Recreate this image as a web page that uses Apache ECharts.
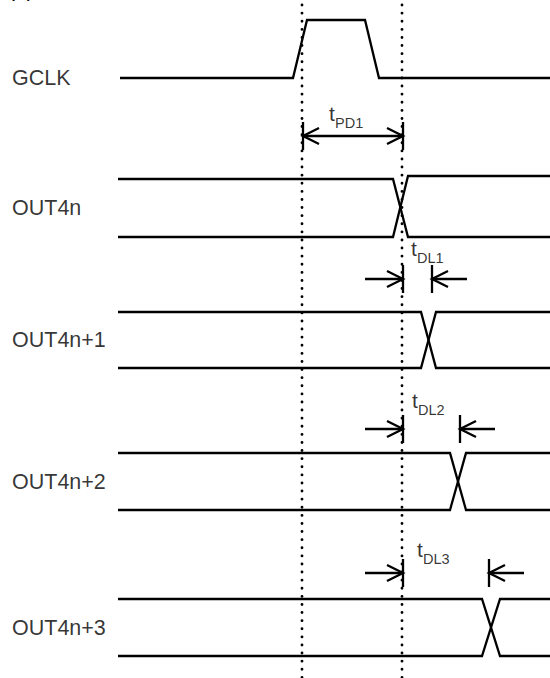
<!DOCTYPE html>
<html><head><meta charset="utf-8">
<script src="https://cdn.jsdelivr.net/npm/echarts@6/dist/echarts.min.js"></script>
<style>html,body{margin:0;padding:0;background:#fff}#c{width:550px;height:678px}</style>
</head><body><div id="c"></div>
<script>
// ---- data (diagram units: x = time, y = vertical position of the traces) ----
const signalNames = ['GCLK', 'OUT4n', 'OUT4n+1', 'OUT4n+2', 'OUT4n+3'];
const gclkX = [120, 293, 307, 365, 379, 550];
const gclkY = [78, 78, 20, 20, 78, 78];
const outHigh = [179, 312, 453, 599];
const outHighEnd = [176, 312, 453, 599];
const outLow = [237, 368, 510, 656];
const crossStart = [393, 421, 450, 482];
const crossEnd = [408, 436, 466, 500];
const traceStartX = 118, traceEndX = 550;
const refEdgeX = [302, 402];
const pdFrom = 303, pdTo = 403, pdY = 136;
const dlNames = ['DL1', 'DL2', 'DL3'];
const dlArrowY = [279, 429, 573];
const dlEndX = [432, 460, 489];
const dlLabelX = [411, 412, 417];
const dlLabelY = [248, 400, 549];

const FONT = '"Liberation Sans", Arial, sans-serif';
const segs = [];
// GCLK
segs.push({coords: gclkX.map((x, i) => [x, gclkY[i]])});
// outputs with crossing
outHigh.forEach((h, i) => {
  const l = outLow[i], s = crossStart[i], e = crossEnd[i];
  segs.push({coords: [[traceStartX, h], [s, h], [e, l], [traceEndX, l]]});
  segs.push({coords: [[traceStartX, l], [s, l], [e, outHighEnd[i]], [traceEndX, outHighEnd[i]]]});
});
const AH = 16, AW = 8, TK = 14;
// tPD1 double arrow
segs.push({coords: [[pdFrom, pdY], [pdTo, pdY]]});
segs.push({coords: [[pdFrom + AH, pdY - AW], [pdFrom, pdY], [pdFrom + AH, pdY + AW]]});
segs.push({coords: [[pdTo - AH, pdY - AW], [pdTo, pdY], [pdTo - AH, pdY + AW]]});
segs.push({coords: [[pdFrom, pdY - TK], [pdFrom, pdY + TK]]});
segs.push({coords: [[pdTo, pdY - TK], [pdTo, pdY + TK]]});
// tDL arrows
dlArrowY.forEach((y, i) => {
  const a = refEdgeX[1] + 1, b = dlEndX[i];
  segs.push({coords: [[a - 38, y], [a, y]]});
  segs.push({coords: [[a - AH, y - AW], [a, y], [a - AH, y + AW]]});
  segs.push({coords: [[a, y - TK], [a, y + TK]]});
  segs.push({coords: [[b + 35, y], [b, y]]});
  segs.push({coords: [[b + AH, y - AW], [b, y], [b + AH, y + AW]]});
  segs.push({coords: [[b, y - TK], [b, y + TK]]});
});

const nameLabels = signalNames.map((n, i) => [12, i === 0 ? gclkY[0] : (outHigh[i - 1] + outLow[i - 1]) / 2, n]);
const tLabels = [[329, 113, 't']].concat(dlLabelX.map((x, i) => [x, dlLabelY[i], 't']));
const subLabels = [[335, 123, 'PD1']].concat(dlLabelX.map((x, i) => [x + 6, dlLabelY[i] + 10, dlNames[i]]));

function textSeries(data, size) {
  return {
    type: 'scatter', symbolSize: 0, silent: true, data: data,
    label: {show: true, position: [0, 0], align: 'left', verticalAlign: 'middle',
      formatter: p => p.data[2], fontFamily: FONT, fontSize: size, color: '#000'}
  };
}

const chart = echarts.init(document.getElementById('c'), null, {renderer: 'svg'});
chart.setOption({
  animation: false,
  grid: {left: 0, right: 0, top: 0, bottom: 0},
  xAxis: {type: 'value', min: 0, max: 550, show: false},
  yAxis: {type: 'value', min: 0, max: 678, inverse: true, show: false},
  graphic: [{type: 'text', left: 8, top: -21, style: {text: '(a)', font: '21px ' + FONT, fill: '#000'}}],
  series: [
    {type: 'lines', coordinateSystem: 'cartesian2d', polyline: true, silent: true,
      data: refEdgeX.map(x => ({coords: [[x, 5], [x, 678]]})),
      lineStyle: {color: '#000', width: 2.8, opacity: 1, type: [0.1, 8], cap: 'round'}},
    {type: 'lines', coordinateSystem: 'cartesian2d', polyline: true, silent: true,
      lineStyle: {color: '#000', width: 2.3, opacity: 1, join: 'miter'}, data: segs},
    textSeries(nameLabels, 21.5),
    textSeries(tLabels, 21),
    textSeries(subLabels, 14.5)
  ]
});
</script></body></html>
